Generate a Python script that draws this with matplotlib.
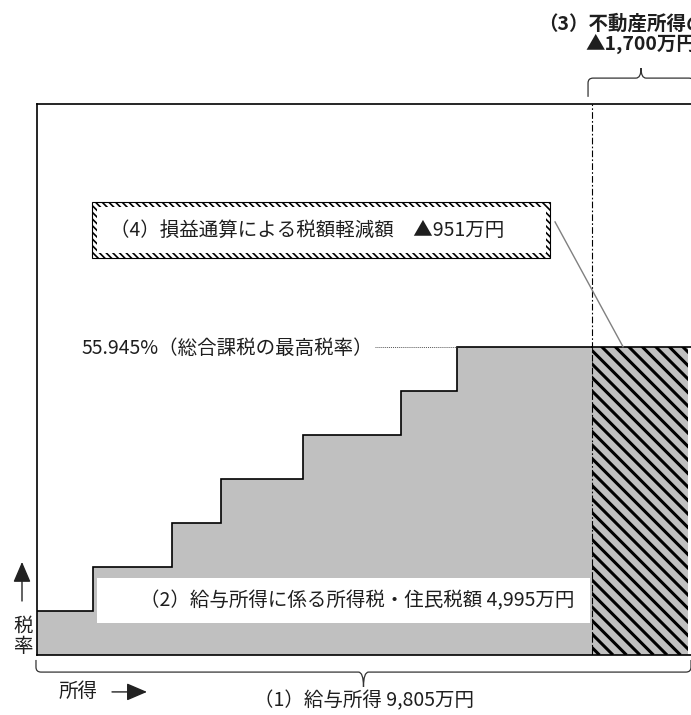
import numpy as np
import matplotlib.pyplot as plt
from matplotlib.patches import Rectangle, PathPatch
from matplotlib.path import Path

plt.rcParams['font.family'] = ['Noto Sans CJK JP', 'DejaVu Sans']
plt.rcParams['hatch.linewidth'] = 1.2

# 給与所得の税率ブラケット（万円）と各段階の税率（%）
bracket_edges = [0, 989, 2385, 3251, 4700, 6431, 7420, 9805]
bracket_rates = [8, 16, 24, 32, 40, 48, 55.945]
salary_income = 9805
real_estate_loss = 1700
top_rate = 55.945

label_salary = "（1）給与所得 9,805万円"
label_tax = "（2）給与所得に係る所得税・住民税額 4,995万円"
label_loss = ["（3）不動産所得の損失", "▲1,700万円"]
label_offset = "（4）損益通算による税額軽減額　▲951万円"
label_top_rate = "55.945%（総合課税の最高税率）"

TEXT = "#1e1e1e"
GRAY = "#c0c0c0"

W, H = 691, 715
fig = plt.figure(figsize=(W / 100, H / 100), dpi=100)
ax = fig.add_axes([37 / W, (H - 655) / H, (W - 37) / W, 551 / H])
x_max = salary_income * (W - 37) / (592 - 37)
ax.set_xlim(0, x_max)
ax.set_ylim(0, 100)
ax.set_xticks([])
ax.set_yticks([])
ax.spines['right'].set_visible(False)
for s in ['left', 'top', 'bottom']:
    ax.spines[s].set_linewidth(1.2)
    ax.spines[s].set_zorder(10)

px_x = (592 - 37) / salary_income   # pixels per 万円
px_y = 551 / 100                    # pixels per %

# 給与所得の税額（階段）
ax.stairs(bracket_rates, bracket_edges, fill=True, color=GRAY, zorder=1)
ax.stairs(bracket_rates, bracket_edges, baseline=None, color="black", lw=1.2, zorder=3)

# 不動産所得の損失部分（斜線）
loss_x0 = salary_income
loss_rect = Rectangle((loss_x0, 0), real_estate_loss, top_rate, facecolor=GRAY,
                      edgecolor="none", zorder=1)
ax.add_patch(loss_rect)
w_px = real_estate_loss * px_x
h_px = top_rate * px_y
for c in np.arange(-6, w_px + h_px + 14, 13.5):
    xs = [loss_x0 + c / px_x, loss_x0 + (c - h_px - 20) / px_x]
    ys = [0, (h_px + 20) / px_y]
    ln, = ax.plot(xs, ys, color="black", lw=2.2, zorder=2, solid_capstyle="butt")
    ln.set_clip_path(loss_rect)
ax.plot([loss_x0, x_max], [top_rate, top_rate], color="black", lw=1.2, zorder=3)

# 給与所得と不動産所得の境界
ax.axvline(salary_income, color="black", lw=0.8, ls=(0, (6, 2, 1.5, 2)), zorder=4)

# 最高税率の注記
ax.text(5936, 55.6, label_top_rate, ha="right", va="center", fontsize=14, color=TEXT)
ax.plot([5972, bracket_edges[-2]], [top_rate, top_rate], color="#555555", lw=0.7,
        ls=(0, (1, 1)), zorder=3)

# (2) ラベル
ax.add_patch(Rectangle((1060, 5.8), 9770 - 1060, 13.97 - 5.8, facecolor="white",
                       edgecolor="none", zorder=5))
ax.text(5650, 9.9, label_tax, ha="center", va="center", fontsize=14, color=TEXT, zorder=6)

# (4) ラベル（斜線の枠）
bx0, bx1, by0, by1 = 972, 9064, 72.05, 82.2
ax.add_patch(Rectangle((bx0, by0), bx1 - bx0, by1 - by0, facecolor="white",
                       edgecolor="black", hatch="\\\\\\\\\\", lw=0.8, zorder=5))
ax.add_patch(Rectangle((bx0 + 80, by0 + 0.85), bx1 - bx0 - 160, by1 - by0 - 1.7,
                       facecolor="white", edgecolor="none", zorder=6))
ax.text(1290, 77.1, label_offset, ha="left", va="center", fontsize=14, color=TEXT, zorder=7)
ax.plot([9152, 10353], [78.6, top_rate], color="#808080", lw=1.0, zorder=4)


def brace(ax, x0, x1, y, end, tip, rx, ry):
    # end: y of the two ends, tip: y of the middle point
    xm = (x0 + x1) / 2
    s = np.sign(tip - y)
    verts = [(x0, end), (x0, y - s * ry), (x0, y), (x0 + rx, y),
             (xm - rx, y), (xm, y), (xm, tip),
             (xm, y), (xm + rx, y),
             (x1 - rx, y), (x1, y), (x1, y - s * ry), (x1, end)]
    codes = [Path.MOVETO, Path.LINETO, Path.CURVE3, Path.CURVE3,
             Path.LINETO, Path.CURVE3, Path.CURVE3,
             Path.CURVE3, Path.CURVE3,
             Path.LINETO, Path.CURVE3, Path.CURVE3, Path.LINETO]
    ax.add_patch(PathPatch(Path(verts, codes), facecolor="none", edgecolor="#333333",
                           lw=0.9, clip_on=False))


# (3) 不動産所得の損失
brace(ax, 9735, 11607, 104.7, 101.3, 106.5, 90, 0.9)
ax.text(10671, 114.5, label_loss[0], ha="center", va="center", fontsize=14,
        fontweight="bold", color=TEXT, clip_on=False)
ax.text(10671, 110.9, label_loss[1], ha="center", va="center", fontsize=14,
        fontweight="bold", color=TEXT, clip_on=False)

# (1) 給与所得
brace(ax, -18, x_max, -3.1, -0.9, -5.8, 90, 0.9)
ax.text(5777, -8.4, label_salary, ha="center", va="center", fontsize=14, color=TEXT,
        clip_on=False)

# 軸の説明
ax.text(724, -6.7, "所得", ha="center", va="center", fontsize=14, color=TEXT, clip_on=False)
ax.annotate("", xy=(1943, -6.7), xytext=(1325, -6.7), annotation_clip=False,
            arrowprops=dict(arrowstyle="-|>,head_length=0.7,head_width=0.3", lw=1.0,
                            color="#222222", shrinkA=0, shrinkB=0, mutation_scale=18))
ax.text(-250, 3.45, "税\n率", ha="center", va="center", fontsize=14, color=TEXT,
        linespacing=0.95, clip_on=False)
ax.annotate("", xy=(-265, 16.9), xytext=(-265, 9.8), annotation_clip=False,
            arrowprops=dict(arrowstyle="-|>,head_length=0.7,head_width=0.3", lw=1.0,
                            color="#222222", shrinkA=0, shrinkB=0, mutation_scale=18))

fig.savefig("out.png", dpi=100)
